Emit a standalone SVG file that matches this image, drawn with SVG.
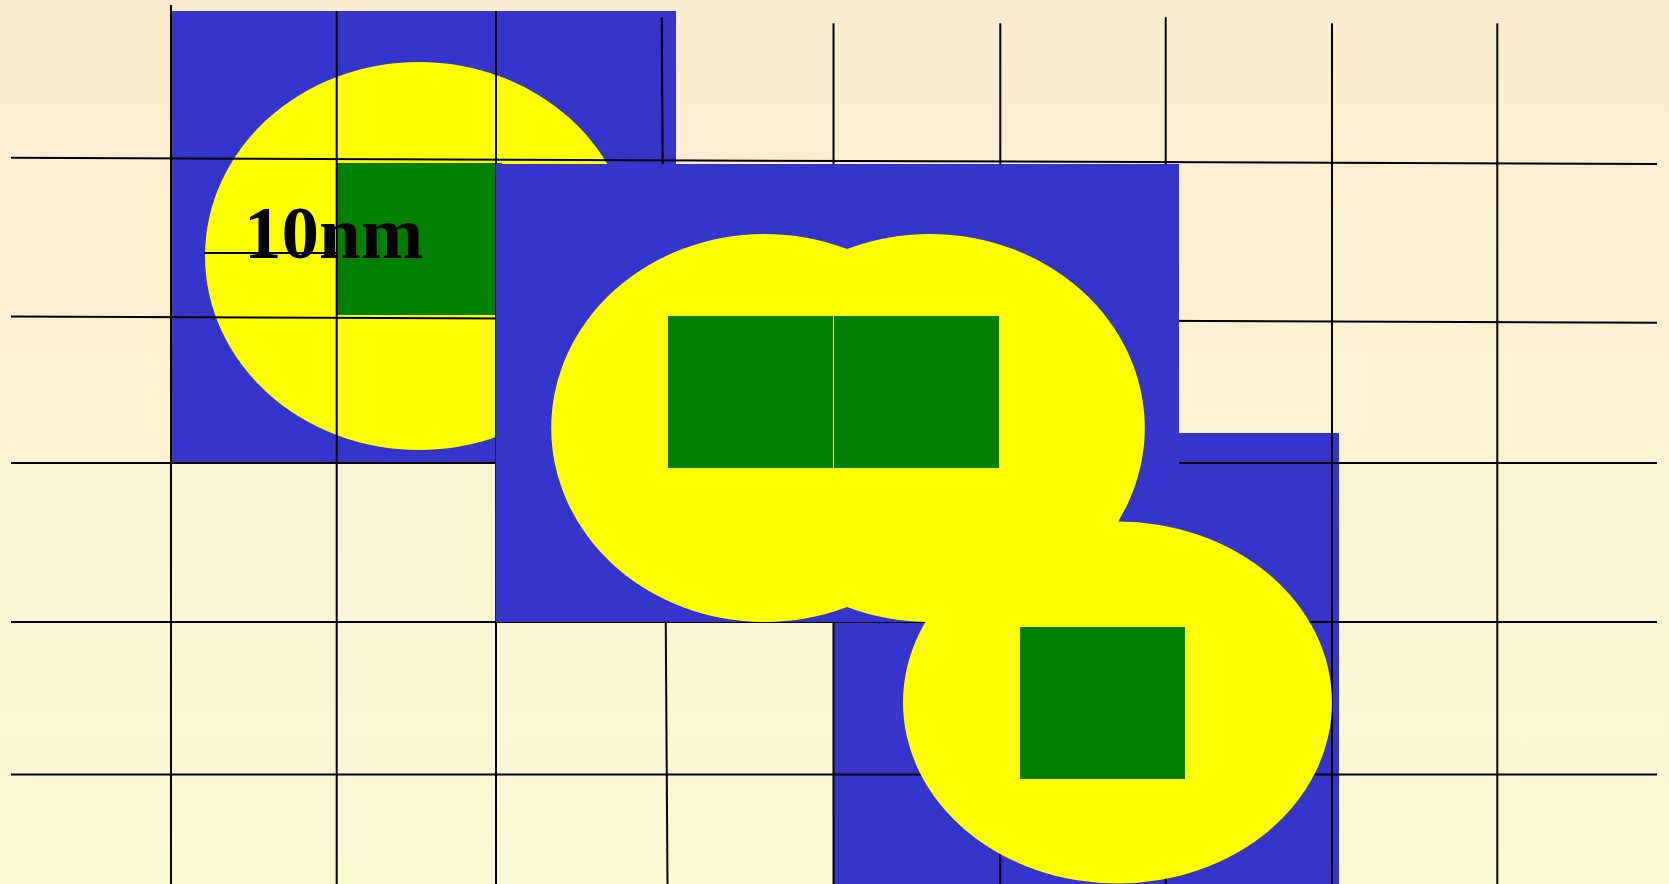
<svg xmlns="http://www.w3.org/2000/svg" width="1669" height="884" viewBox="0 0 1669 884">
<defs>
<linearGradient id="bg" x1="0" y1="0" x2="0" y2="1">
<stop offset="0" stop-color="#FBEBD1"/>
<stop offset="1" stop-color="#F9F9D2"/>
</linearGradient>
</defs>
<style>
.blue{fill:#3535CC}
.yel{fill:#FFFF00}
.grn{fill:#008000}
.grid line{stroke:#000;stroke-width:2;fill:none}
.lbl{font-family:"Liberation Serif","Times New Roman",serif;font-weight:bold;font-size:75px;fill:#000}
</style>
<rect x="0" y="0" width="1669" height="884" fill="url(#bg)"/>
<g id="cell1">
<rect class="blue" x="171" y="11" width="505" height="452"/>
<ellipse class="yel" cx="419" cy="256" rx="214" ry="194"/>
<rect class="grn" x="337" y="163" width="165" height="152"/>
</g>
<g id="cell4-base">
<rect class="blue" x="834" y="433" width="505" height="451"/>
</g>
<g id="grid" class="grid">
<line x1="11" y1="157.8" x2="1657" y2="164"/>
<line x1="11" y1="316.5" x2="1657" y2="322.7"/>
<line x1="11" y1="463" x2="1657" y2="463"/>
<line x1="11" y1="622" x2="1657" y2="622"/>
<line x1="11" y1="774.5" x2="1657" y2="774.5"/>
<line x1="204" y1="253" x2="337" y2="253"/>
<line x1="171" y1="5" x2="171" y2="884"/>
<line x1="336.7" y1="11" x2="336.7" y2="884"/>
<line x1="496" y1="11" x2="496" y2="884"/>
<line x1="661.7" y1="17.3" x2="667.5" y2="884"/>
<line x1="833.5" y1="23.3" x2="833.5" y2="884"/>
<line x1="1000.3" y1="23.3" x2="1000.3" y2="884"/>
<line x1="1165.7" y1="17.3" x2="1165.7" y2="884"/>
<line x1="1332" y1="23.3" x2="1332" y2="884"/>
<line x1="1497.3" y1="23.3" x2="1497.3" y2="884"/>
</g>
<g id="cell2">
<rect class="blue" x="495.5" y="164" width="683.5" height="458"/>
<ellipse class="yel" cx="764.7" cy="428" rx="213.5" ry="194"/>
<ellipse class="yel" cx="930" cy="428" rx="214.8" ry="194"/>
<rect class="grn" x="668" y="316" width="165" height="152"/>
<rect class="grn" x="834" y="316" width="165" height="152"/>
</g>
<g id="cell4">
<ellipse class="yel" cx="1117.5" cy="702.5" rx="214.5" ry="181"/>
<rect class="grn" x="1020" y="627" width="165" height="152"/>
</g>
<g id="label">
<text class="lbl" x="244" y="258">10nm</text>
</g>
</svg>
